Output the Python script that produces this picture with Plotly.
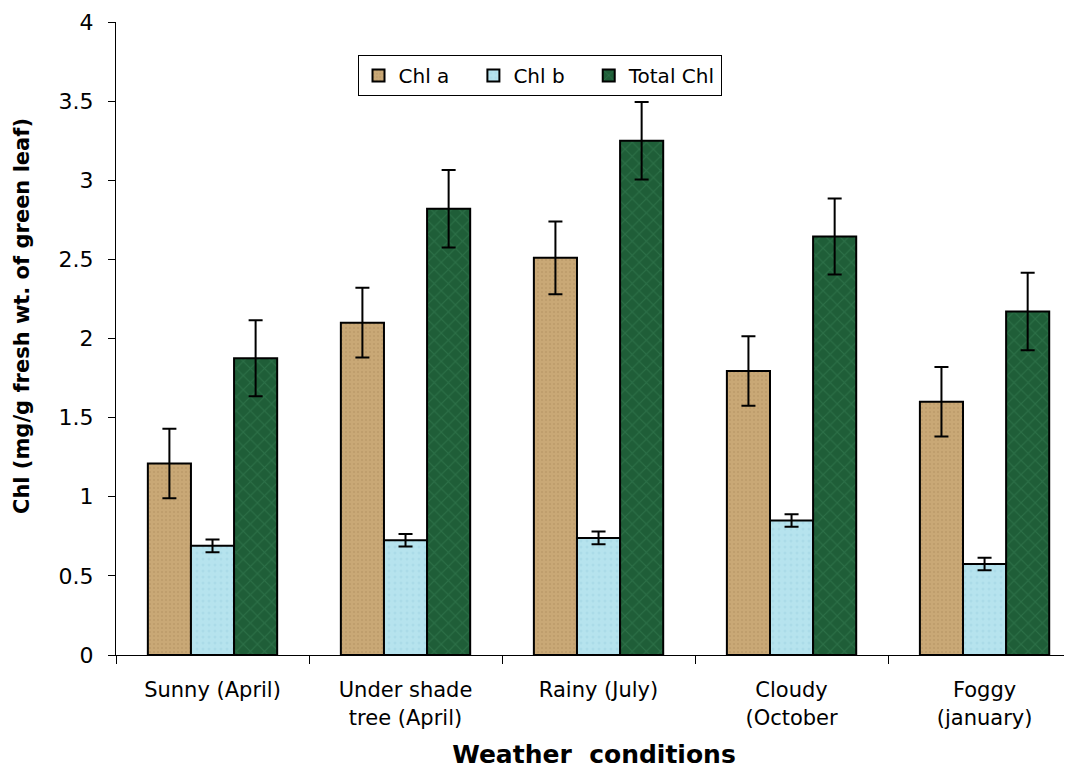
import plotly.graph_objects as go

categories = ["Sunny (April)", "Under shade<br>tree (April)", "Rainy (July)", "Cloudy<br>(October", "Foggy<br>(january)"]
series_names = ["Chl a", "Chl b", "Total Chl"]
chl_a = [1.21, 2.10, 2.51, 1.795, 1.60]
chl_a_err = [0.22, 0.22, 0.23, 0.22, 0.22]
chl_b = [0.69, 0.725, 0.74, 0.85, 0.575]
chl_b_err = [0.04, 0.04, 0.04, 0.04, 0.04]
total = [1.875, 2.82, 3.25, 2.645, 2.17]
total_err = [0.24, 0.245, 0.245, 0.24, 0.245]
yticks = [0, 0.5, 1, 1.5, 2, 2.5, 3, 3.5, 4]

FONT = "DejaVu Sans, Arial, sans-serif"
PAD = "\u00a0\u00a0\u00a0"

def bar(name, vals, errs, color, pat_color, shape, size):
    return go.Bar(
        name=name, x=categories, y=vals,
        marker=dict(color=color, line=dict(color="black", width=2),
                    pattern=dict(shape=shape, fgcolor=pat_color, size=size, solidity=0.2, fillmode="overlay")),
        error_y=dict(type="data", array=errs, visible=True, color="black", thickness=2, width=7),
    )

fig = go.Figure()
fig.add_trace(bar(series_names[0] + PAD, chl_a, chl_a_err, "#C9A876", "#B08E5C", ".", 4))
fig.add_trace(bar(series_names[1] + PAD, chl_b, chl_b_err, "#B6E3EE", "#9FD3E2", ".", 6))
fig.add_trace(bar(series_names[2], total, total_err, "#1F5E38", "#3A8257", "x", 10))

fig.update_layout(
    width=1064, height=763,
    margin=dict(l=108, r=0, t=14, b=116, autoexpand=False),
    paper_bgcolor="white", plot_bgcolor="white",
    barmode="group", bargap=0.33, bargroupgap=0,
    font=dict(family=FONT, color="black"),
    showlegend=True,
    legend=dict(orientation="h", x=0.443, y=0.948, xanchor="center", yanchor="top",
                bordercolor="black", borderwidth=1, bgcolor="white",
                font=dict(size=20, family=FONT), itemwidth=30),
    annotations=[dict(
        text="<b>Chl (mg/g fresh wt. of green leaf)</b>", textangle=-90,
        xref="paper", yref="paper", x=(14 - 108) / 956, y=(647 - 308) / 633,
        xanchor="center", yanchor="middle", showarrow=False,
        font=dict(size=21, family=FONT, color="black"),
    )],
)
fig.update_xaxes(
    range=[-0.5, 4.453], showline=True, linecolor="black", linewidth=1,
    ticks="outside", tickson="boundaries", ticklen=8, tickcolor="black",
    tickfont=dict(size=21, family=FONT), ticklabelstandoff=16,
    title=dict(text="<b>Weather  conditions</b>", font=dict(size=25, family=FONT), standoff=16),
    showgrid=False, automargin=False,
)
fig.update_yaxes(
    range=[0, 4], tickvals=yticks, ticktext=[f"{v:g}" for v in yticks],
    showline=True, linecolor="black", linewidth=1,
    ticks="outside", ticklen=7, tickcolor="black",
    tickfont=dict(size=22, family=FONT), ticklabelstandoff=10,
    showgrid=False, zeroline=False, automargin=False,
)

fig.write_html("out.html")
